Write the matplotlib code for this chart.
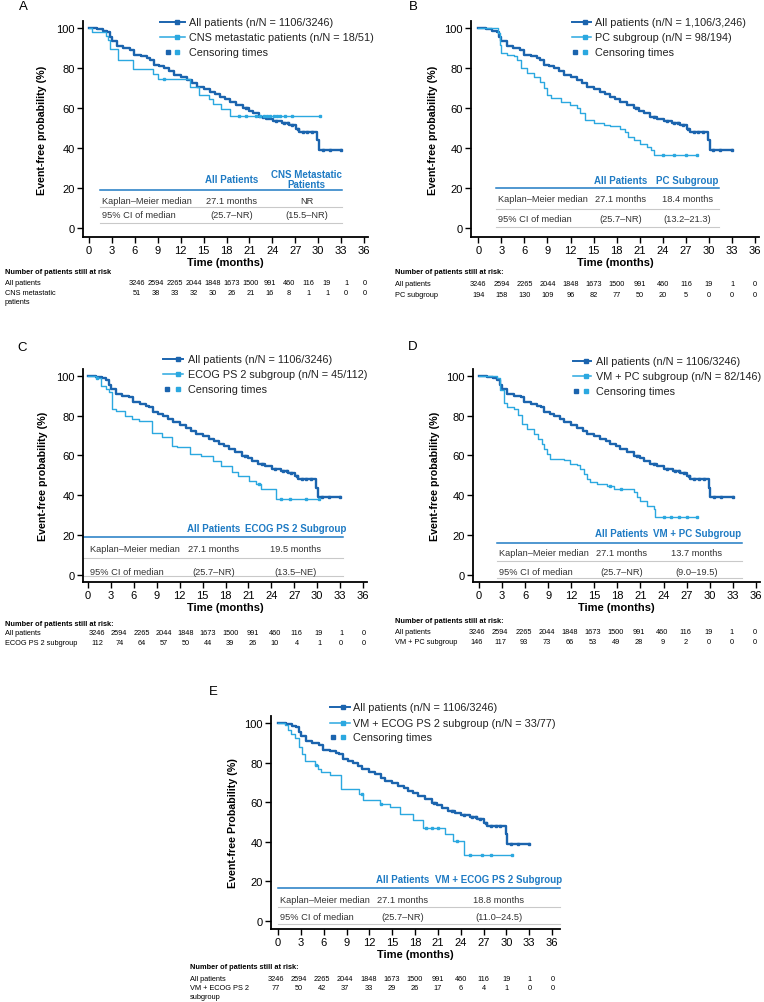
import numpy as np
import matplotlib
matplotlib.use('Agg')
import matplotlib.pyplot as plt
from matplotlib.lines import Line2D

plt.rcParams['font.family'] = ['Liberation Sans', 'DejaVu Sans']

W, H = 764, 1003
DARK = '#1b64ae'
LIGHT = '#2ba8e0'
HEAD = '#1f7bc4'
GREY = '#c9c9c9'

# ---------------- data ----------------
months = [0, 3, 6, 9, 12, 15, 18, 21, 24, 27, 30, 33, 36]

# all patients (same curve in every panel)
all_t = [0, 1.0, 1.8, 2.4, 2.7, 3.0, 3.7, 4.5, 5.4, 5.9, 6.8, 7.6, 8.0, 8.5, 9.2, 9.8,
         10.5, 11.1, 12.0, 12.8, 13.5, 14.1, 15.0, 15.8, 16.5, 17.1, 17.8, 18.4, 19.3,
         20.2, 20.9, 21.5, 22.3, 23.2, 24.1, 25.2, 26.2, 27.1, 27.5, 29.9, 30.1]
all_s = [100, 99.3, 98.6, 97.8, 95.5, 93.3, 90.8, 90.0, 89.1, 86.6, 85.8, 84.9, 84.1, 81.6,
         80.8, 79.9, 78.3, 76.6, 75.3, 74.0, 72.3, 70.7, 69.5, 68.2, 67.0, 65.7, 64.5, 63.2,
         61.5, 59.8, 58.5, 57.3, 55.6, 54.5, 53.4, 52.4, 51.4, 49.7, 48.1, 43.9, 38.9]
all_end = 33.0
all_cens = [20.5, 22.8, 24.5, 25.5, 26.0, 26.6, 27.3, 28.0, 28.6, 29.2, 30.6, 31.5, 33.0]

cns_t = [0, 0.4, 2.2, 2.5, 2.8, 3.8, 5.8, 8.4, 9.0, 13.2, 14.4, 15.7, 16.2, 17.3, 18.4]
cns_s = [100, 98.0, 96.0, 93.8, 89.7, 84.2, 79.7, 77.2, 74.7, 70.5, 66.7, 64.7, 62.2, 59.7, 56.0]
cns_end = 30.3
cns_cens = [9.8, 19.7, 20.6, 21.9, 22.4, 22.9, 23.3, 23.7, 24.2, 24.6, 25.0, 25.6, 26.6, 30.3]

pc_t = [0, 2.6, 2.8, 3.0, 3.7, 4.6, 5.0, 5.6, 6.3, 7.2, 8.0, 8.5, 8.9, 9.5, 10.8, 11.9,
        12.8, 13.2, 13.9, 15.0, 16.3, 17.1, 18.4, 19.1, 19.5, 20.2, 21.0, 21.9, 22.5, 22.8]
pc_s = [100, 97.5, 91.6, 87.4, 86.6, 85.8, 84.1, 79.9, 77.4, 75.7, 73.2, 69.8, 66.5, 64.8,
        63.2, 61.5, 59.8, 57.3, 53.9, 52.3, 51.4, 50.9, 49.7, 48.1, 45.6, 43.9, 42.2, 40.5,
        38.9, 36.3]
pc_end = 28.5
pc_cens = [24.0, 25.5, 27.0, 28.5]

ecog_t = [0, 1.0, 1.7, 2.3, 2.8, 3.2, 3.6, 4.9, 5.8, 6.7, 8.4, 9.7, 11.0, 11.7, 13.4,
          14.8, 16.3, 17.4, 18.9, 19.6, 21.1, 22.0, 22.6, 24.6]
ecog_s = [100, 98.7, 95.0, 93.3, 91.6, 83.3, 82.4, 79.9, 78.2, 77.4, 71.5, 69.0, 64.9, 64.0,
          60.7, 59.8, 57.3, 54.8, 51.5, 49.8, 47.3, 45.6, 43.1, 38.1]
ecog_end = 30.3
ecog_cens = [1.2, 22.4, 25.3, 26.5, 28.5, 30.3]

vmpc_t = [0, 2.3, 2.7, 3.2, 3.6, 4.5, 5.1, 5.6, 6.2, 7.1, 7.7, 8.2, 8.4, 8.8, 9.2, 11.0,
          11.8, 12.7, 13.1, 13.6, 14.0, 14.4, 15.3, 16.6, 17.5, 20.1, 20.5, 20.9, 21.8, 22.7, 22.9]
vmpc_s = [100, 98.7, 92.8, 86.1, 84.4, 83.5, 80.2, 76.0, 73.4, 70.9, 68.4, 65.9, 63.4, 60.8,
          58.3, 57.5, 55.8, 55.0, 53.3, 50.8, 48.2, 46.6, 45.7, 44.9, 43.2, 41.5, 39.0, 37.3,
          34.8, 33.1, 29.2]
vmpc_end = 28.4
vmpc_cens = [17.0, 18.5, 24.0, 25.0, 26.0, 27.0, 28.4]

vmecog_t = [0, 0.9, 1.3, 1.75, 2.2, 2.8, 3.1, 3.5, 4.8, 5.3, 5.7, 6.8, 8.3, 10.7, 11.2,
            13.4, 14.7, 16.0, 17.7, 19.1, 21.9, 23.0, 24.5]
vmecog_s = [100, 98.8, 96.3, 94.6, 92.4, 87.9, 84.5, 80.6, 78.6, 76.9, 75.3, 73.6, 66.5,
            64.3, 60.9, 59.3, 57.6, 54.2, 50.8, 47.0, 44.1, 40.3, 33.2]
vmecog_end = 30.7
vmecog_cens = [5.0, 11.0, 13.5, 19.5, 20.2, 21.0, 23.5, 25.2, 26.8, 28.0, 30.7]

risk_all = [3246, 2594, 2265, 2044, 1848, 1673, 1500, 991, 460, 116, 19, 1, 0]
risk_cns = [51, 38, 33, 32, 30, 26, 21, 16, 8, 1, 1, 0, 0]
risk_pc = [194, 158, 130, 109, 96, 82, 77, 50, 20, 5, 0, 0, 0]
risk_ecog = [112, 74, 64, 57, 50, 44, 39, 26, 10, 4, 1, 0, 0]
risk_vmpc = [146, 117, 93, 73, 66, 53, 49, 28, 9, 2, 0, 0, 0]
risk_vmecog = [77, 50, 42, 37, 33, 29, 26, 17, 6, 4, 1, 0, 0]

fig = plt.figure(figsize=(W / 100, H / 100), dpi=100)


def fy(py):
    return 1 - py / H


def step_at(t, s, x):
    idx = np.searchsorted(t, x, side='right') - 1
    return np.array(s)[idx]


def make_ax(x0, x36, y0, y100, xlim, ylim):
    sx = (x36 - x0) / 36
    sy = (y0 - y100) / 100
    left = x0 + xlim[0] * sx
    right = x0 + xlim[1] * sx
    top = y0 - ylim[1] * sy
    bottom = y0 - ylim[0] * sy
    ax = fig.add_axes([left / W, 1 - bottom / H, (right - left) / W, (bottom - top) / H])
    ax.set_xlim(xlim)
    ax.set_ylim(ylim)
    for sp in ['top', 'right']:
        ax.spines[sp].set_visible(False)
    for sp in ['left', 'bottom']:
        ax.spines[sp].set_linewidth(1.3)
    ax.set_xticks(months)
    ax.set_yticks([0, 20, 40, 60, 80, 100])
    ax.tick_params(direction='out', length=4, width=1, labelsize=8, pad=2)
    return ax


def curve(ax, t, s, end, cens, color, lw):
    tt = list(t) + [end]
    ss = list(s) + [s[-1]]
    ax.step(tt, ss, where='post', color=color, lw=lw, zorder=3)
    ax.plot(cens, step_at(t, s, cens), 's', ms=1.6, color=color, zorder=4)


def km_table(ax, x0, x1, hline, rows, greys, cols, head_y, heads, vals):
    ax.plot([x0, x1], [hline, hline], color=HEAD, lw=1.1, clip_on=False)
    for g in greys:
        ax.plot([x0, x1], [g, g], color=GREY, lw=0.8, clip_on=False)
    for c, h in zip(cols, heads):
        ax.text(c, head_y, h, ha='center', va='center', color=HEAD, fontsize=7,
                fontweight='bold', linespacing=1.05)
    names = ['Kaplan–Meier median', '95% CI of median']
    lx = max(x0, 0) + 0.3
    for r, name, v in zip(rows, names, vals):
        ax.text(lx, r, name, ha='left', va='center', fontsize=6.7, color='#333333')
        ax.text(cols[0], r, v[0], ha='center', va='center', fontsize=6.7, color='#333333')
        ax.text(cols[1], r, v[1], ha='center', va='center', fontsize=6.7, color='#333333')


def legend(lx0, lx1, tx, rows, labels, mk):
    for i in range(2):
        col = DARK if i == 0 else LIGHT
        fig.add_artist(Line2D([lx0 / W, lx1 / W], [fy(rows[i])] * 2, color=col,
                              lw=1.4 if i == 0 else 1.1))
        fig.add_artist(Line2D([mk[1] / W], [fy(rows[i])], marker='s', ms=2.2, color=col))
    fig.add_artist(Line2D([mk[0] / W], [fy(rows[2])], marker='s', ms=2.6, color=DARK, lw=0))
    fig.add_artist(Line2D([mk[1] / W], [fy(rows[2])], marker='s', ms=2.6, color=LIGHT, lw=0))
    for y, lab in zip(rows, labels):
        fig.text(tx / W, fy(y), lab, va='center', ha='left', fontsize=7.8, color='#222222')


def risk_table(x, ys, title, labels, xs, counts):
    fig.text(x / W, fy(ys[0]), title, fontsize=5.3, fontweight='bold', va='center')
    for y, lab, cnt in zip(ys[1:], labels, counts):
        fig.text(x / W, fy(y), lab, fontsize=5.3, va='top', linespacing=1.35)
        for xx, n in zip(xs, cnt):
            fig.text(xx / W, fy(y), str(n), fontsize=5.3, ha='center', va='top')


def finish(ax, ylab, ylab_x):
    ax.set_ylabel(ylab, fontsize=7.7, fontweight='bold')
    ax.yaxis.set_label_coords(ylab_x, 0.5)
    ax.set_xlabel('Time (months)', fontsize=8, fontweight='bold', labelpad=1)


# ---------------- Panel A ----------------
ax = make_ax(89, 364, 229, 29, (-0.8, 36.5), (-4.5, 103.5))
curve(ax, all_t, all_s, all_end, all_cens, DARK, 1.7)
curve(ax, cns_t, cns_s, cns_end, cns_cens, LIGHT, 1.0)
km_table(ax, 1.4, 33.1, 19, [14, 6.5], [10.5, 2.5], [18.7, 28.5], 24.5,
         ['All Patients', 'CNS Metastatic\nPatients'],
         [('27.1 months', 'NR'), ('(25.7–NR)', '(15.5–NR)')])
finish(ax, 'Event-free probability (%)', -0.125)
legend(160, 185, 189, [23, 38, 53],
       ['All patients (n/N = 1106/3246)', 'CNS metastatic patients (n/N = 18/51)',
        'Censoring times'], (168, 177))
fig.text(23 / W, fy(7), 'A', fontsize=9.5, va='center', ha='center')
risk_table(5, [273, 280, 290], 'Number of patients still at risk',
           ['All patients', 'CNS metastatic\npatients'],
           [137 + 19 * i for i in range(13)], [risk_all, risk_cns])

# ---------------- Panel B ----------------
ax = make_ax(478.3, 755, 229, 29, (-0.95, 36.5), (-4.5, 103.5))
curve(ax, all_t, all_s, all_end, all_cens, DARK, 1.7)
curve(ax, pc_t, pc_s, pc_end, pc_cens, LIGHT, 1.0)
km_table(ax, 2.3, 31.3, 20, [14.5, 4.5], [9.5, 0.5], [18.5, 27.2], 24,
         ['All Patients', 'PC Subgroup'],
         [('27.1 months', '18.4 months'), ('(25.7–NR)', '(13.2–21.3)')])
finish(ax, 'Event-free probability (%)', -0.115)
legend(572, 591, 595, [23, 38, 53],
       ['All patients (n/N = 1,106/3,246)', 'PC subgroup (n/N = 98/194)',
        'Censoring times'], (575, 585))
fig.text(413 / W, fy(7), 'B', fontsize=9.5, va='center', ha='center')
risk_table(395, [273, 281, 292], 'Number of patients still at risk:',
           ['All patients', 'PC subgroup'],
           [478.3 + 3 * 7.69 * i for i in range(13)], [risk_all, risk_pc])

# ---------------- Panel C ----------------
ax = make_ax(88, 363, 576, 376.7, (-0.65, 36.5), (-3.5, 103.5))
curve(ax, all_t, all_s, all_end, all_cens, DARK, 1.7)
curve(ax, ecog_t, ecog_s, ecog_end, ecog_cens, LIGHT, 1.0)
km_table(ax, -0.65, 33.4, 19, [13.5, 2], [8.5, -0.5], [16.4, 27.2], 23.6,
         ['All Patients', 'ECOG PS 2 Subgroup'],
         [('27.1 months', '19.5 months'), ('(25.7–NR)', '(13.5–NE)')])
finish(ax, 'Event-free probability (%)', -0.125)
legend(163, 183, 188, [360, 375, 390],
       ['All patients (n/N = 1106/3246)', 'ECOG PS 2 subgroup (n/N = 45/112)',
        'Censoring times'], (167, 178))
fig.text(22 / W, fy(348), 'C', fontsize=9.5, va='center', ha='center')
risk_table(5, [624, 630, 640], 'Number of patients still at risk:',
           ['All patients', 'ECOG PS 2 subgroup'],
           [97 + 22.2 * i for i in range(13)], [risk_all, risk_ecog])

# ---------------- Panel D ----------------
ax = make_ax(479, 755.8, 576, 376.7, (-0.8, 36.5), (-3.5, 103.5))
curve(ax, all_t, all_s, all_end, all_cens, DARK, 1.7)
curve(ax, vmpc_t, vmpc_s, vmpc_end, vmpc_cens, LIGHT, 1.0)
km_table(ax, 2.3, 34.2, 16, [11.5, 2], [7, -1.5], [18.6, 28.3], 21,
         ['All Patients', 'VM + PC Subgroup'],
         [('27.1 months', '13.7 months'), ('(25.7–NR)', '(9.0–19.5)')])
finish(ax, 'Event-free probability (%)', -0.115)
legend(573, 591, 596, [362, 377, 392],
       ['All patients (n/N = 1106/3246)', 'VM + PC subgroup (n/N = 82/146)',
        'Censoring times'], (576, 586))
fig.text(413 / W, fy(347), 'D', fontsize=9.5, va='center', ha='center')
risk_table(395, [622, 629, 639], 'Number of patients still at risk:',
           ['All patients', 'VM + PC subgroup'],
           [477 + 23.17 * i for i in range(13)], [risk_all, risk_vmpc])

# ---------------- Panel E ----------------
ax = make_ax(278, 552, 922, 724, (-0.9, 37.0), (-4, 103.5))
curve(ax, all_t, all_s, all_end, all_cens, DARK, 1.7)
curve(ax, vmecog_t, vmecog_s, vmecog_end, vmecog_cens, LIGHT, 1.0)
km_table(ax, 0, 37.0, 16.5, [11, 2.5], [7, -1.5], [16.4, 29.0], 21,
         ['All Patients', 'VM + ECOG PS 2 Subgroup'],
         [('27.1 months', '18.8 months'), ('(25.7–NR)', '(11.0–24.5)')])
finish(ax, 'Event-free Probability (%)', -0.114)
legend(330, 350, 353, [708, 724, 738],
       ['All patients (n/N = 1106/3246)', 'VM + ECOG PS 2 subgroup (n/N = 33/77)',
        'Censoring times'], (333, 343))
fig.text(213 / W, fy(692), 'E', fontsize=9.5, va='center', ha='center')
risk_table(190, [968, 976, 985], 'Number of patients still at risk:',
           ['All patients', 'VM + ECOG PS 2\nsubgroup'],
           [276 + 23.08 * i for i in range(13)], [risk_all, risk_vmecog])

fig.savefig('out.png', dpi=100)
